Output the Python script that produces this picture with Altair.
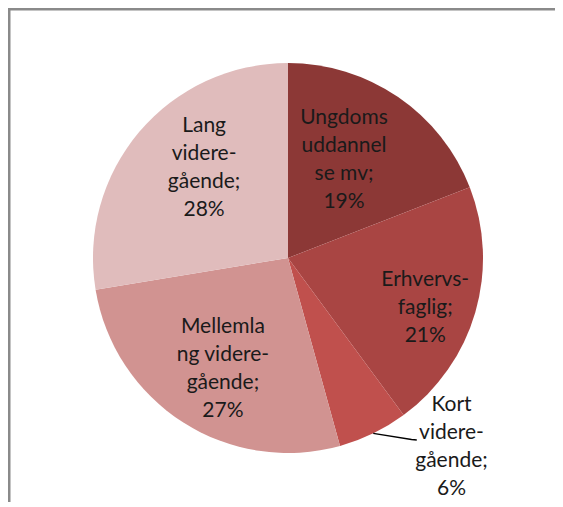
import math
import altair as alt
import pandas as pd

# ---- data ----
categories = ["Ungdomsuddannelse mv", "Erhvervsfaglig", "Kort videregående",
              "Mellemlang videregående", "Lang videregående"]
values = [19.1, 20.8, 5.8, 26.7, 27.6]
label_texts = ["Ungdoms\nuddannel\nse mv;\n19%",
               "Erhvervs-\nfaglig;\n21%",
               "Kort\nvidere-\ngående;\n6%",
               "Mellemla\nng videre-\ngående;\n27%",
               "Lang\nvidere-\ngående;\n28%"]
colors = ["#8c3836", "#a94543", "#c0504d", "#d19391", "#e0bcbc"]

# ---- layout / style ----
W, H = 547, 494
CX, CY, R = 280, 250, 195           # pie centre (px in svg) and radius
label_r = [0.58, 0.75, 1.28, 0.66, 0.63]        # label distance (fraction of R)
label_nudge = [-4.7, 4.0, -15.0, -2.2, 6.6]     # angle nudge from slice middle (deg)
FONT = "Lato"
FS, LH = 21, 28

xs = alt.Scale(domain=[-CX / R, (W - CX) / R], range=[0, W])
ys = alt.Scale(domain=[-(H - CY) / R, CY / R], range=[H, 0])

total = sum(values)
mids, cum = [], 0.0
for v in values:
    mids.append((cum + v / 2) / total * 360.0)
    cum += v

pie_df = pd.DataFrame({"cat": categories, "value": values,
                       "idx": list(range(len(values))),
                       "cx": [0.0] * len(values), "cy": [0.0] * len(values)})

cen_x, cen_y, lab_x, lab_y = [], [], [], []
for m, r, n, t in zip(mids, label_r, label_nudge, label_texts):
    a = math.radians(m + n)
    cx_, cy_ = r * math.sin(a), r * math.cos(a)
    cen_x.append(cx_)
    cen_y.append(cy_)
    nlines = t.count("\n") + 1
    lab_x.append(cx_)
    lab_y.append(cy_ + (nlines - 1) * LH / 2 / R)   # first line anchored, block centred
lab_df = pd.DataFrame({"x": lab_x, "y": lab_y, "t": label_texts})

# leader line for the small slice
k = 2
a = math.radians(mids[k])
lead_df = pd.DataFrame({
    "x": [math.sin(a), cen_x[k] - 0.205, cen_x[k] - 0.178],
    "y": [math.cos(a), cen_y[k] + 0.036, cen_y[k] + 0.034],
    "o": [0, 1, 2]})

pie = alt.Chart(pie_df).mark_arc(outerRadius=R).encode(
    theta=alt.Theta("value:Q", stack=True),
    color=alt.Color("cat:N", scale=alt.Scale(domain=categories, range=colors), legend=None),
    order=alt.Order("idx:Q"),
    x=alt.X("cx:Q", scale=xs, axis=None),
    y=alt.Y("cy:Q", scale=ys, axis=None),
)

labels = alt.Chart(lab_df).mark_text(
    font=FONT, fontSize=FS, lineHeight=LH, lineBreak="\n",
    align="center", baseline="middle", color="#1a1a1a"
).encode(
    x=alt.X("x:Q", scale=xs, axis=None),
    y=alt.Y("y:Q", scale=ys, axis=None),
    text="t:N",
)

leader = alt.Chart(lead_df).mark_line(color="#000000", strokeWidth=1.5).encode(
    x=alt.X("x:Q", scale=xs, axis=None),
    y=alt.Y("y:Q", scale=ys, axis=None),
    order="o:Q",
)

# chart-area frame: only its top and left edges are visible (rest runs off the page)
frame = alt.Chart(pd.DataFrame({"a": [0]})).mark_rect(
    fill=None, fillOpacity=0, stroke="#8a8a8a", strokeWidth=2.5
).encode(
    x=alt.value(1.25), y=alt.value(1.25), x2=alt.value(W + 40), y2=alt.value(H + 40))

chart = alt.layer(pie, leader, labels, frame).properties(
    width=W, height=H, padding=0, autosize=alt.AutoSizeParams(type="none"),
    background="white",
).configure_view(stroke=None)

chart.save("out.html", embed_options={"renderer": "svg", "actions": False})
